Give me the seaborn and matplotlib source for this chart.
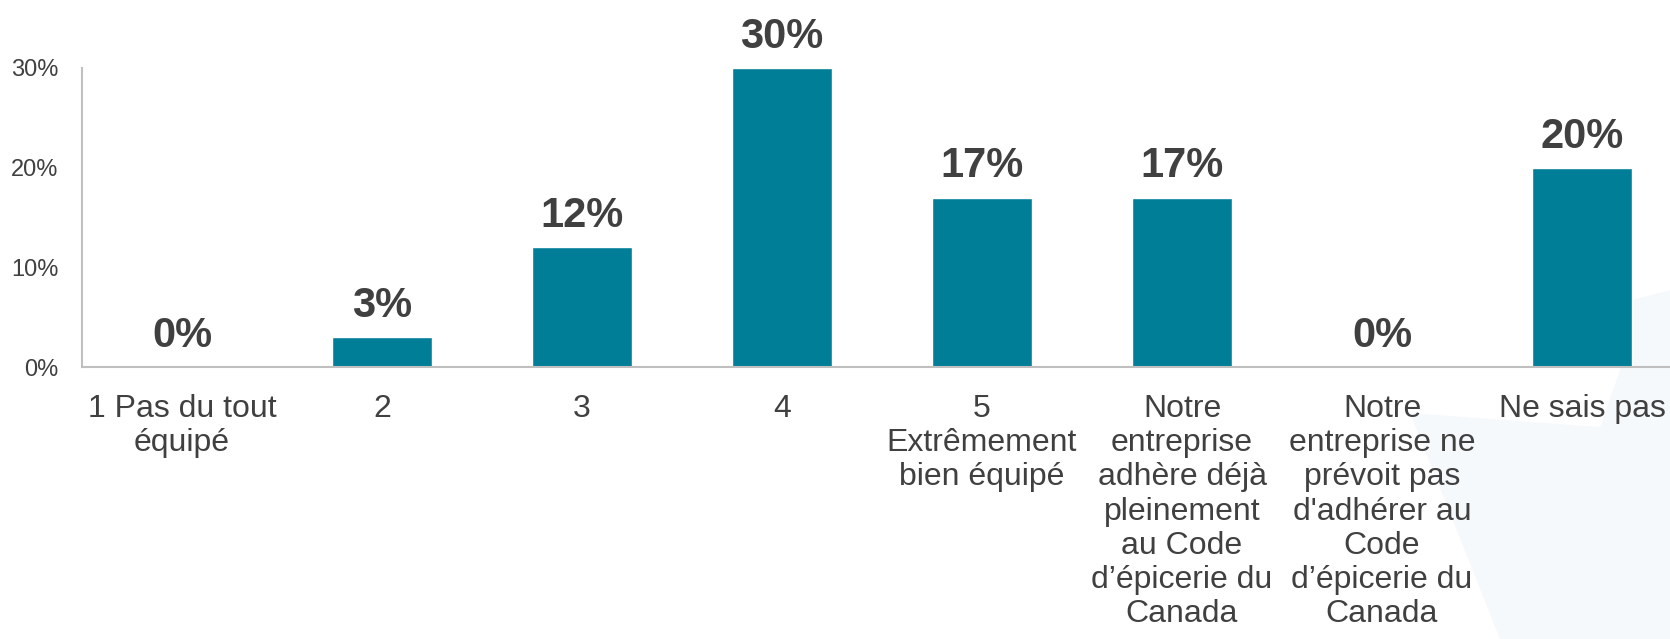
import matplotlib
matplotlib.use("Agg")
import matplotlib.pyplot as plt
from matplotlib.patches import Polygon
import seaborn as sns
import pandas as pd

categories = [
    "1 Pas du tout\néquipé",
    "2",
    "3",
    "4",
    "5\nExtrêmement\nbien équipé",
    "Notre\nentreprise\nadhère déjà\npleinement\nau Code\nd’épicerie du\nCanada",
    "Notre\nentreprise ne\nprévoit pas\nd'adhérer au\nCode\nd’épicerie du\nCanada",
    "Ne sais pas",
]
values = [0, 3, 12, 30, 17, 17, 0, 20]
y_ticks = [0, 10, 20, 30]
y_tick_labels = ["0%", "10%", "20%", "30%"]

BAR_COLOR = "#007E98"
TEXT_COLOR = "#404040"
AXIS_COLOR = "#BFBFBF"

sns.set_theme(style="white")
plt.rcParams["font.family"] = ["Liberation Sans", "DejaVu Sans"]

W, H = 1670, 639
fig = plt.figure(figsize=(W / 100, H / 100), dpi=100)

# faint background shape in the lower right corner, on its own layer behind the chart
bg_ax = fig.add_axes([0, 0, 1, 1], zorder=-1)
bg_ax.set_xlim(0, W)
bg_ax.set_ylim(H, 0)
bg_ax.axis("off")
bg = [(1632, 300), (1670, 290), (1670, 639), (1500, 639), (1410, 413),
      (1600, 427), (1620, 370)]
bg_ax.add_patch(Polygon(bg, closed=True, facecolor="#F6F9FC", edgecolor="none"))

left, right = 82, 1682
top, bottom = 68, 367
ax = fig.add_axes([left / W, 1 - bottom / H, (right - left) / W, (bottom - top) / H])
ax.set_facecolor("none")

df = pd.DataFrame({"cat": categories, "val": values})
sns.barplot(data=df, x="cat", y="val", color=BAR_COLOR, saturation=1,
            width=0.5, ax=ax, order=categories)

ax.set_xlim(-0.5, len(categories) - 0.5)
ax.set_ylim(0, 30)
ax.set_yticks(y_ticks)
ax.set_yticklabels(y_tick_labels)
ax.set_xlabel("")
ax.set_ylabel("")

for spine in ["top", "right"]:
    ax.spines[spine].set_visible(False)
for spine in ["left", "bottom"]:
    ax.spines[spine].set_color(AXIS_COLOR)
    ax.spines[spine].set_linewidth(1.5)

ax.tick_params(axis="y", labelsize=17, colors=TEXT_COLOR, length=0, pad=17)
ax.tick_params(axis="x", labelsize=23, colors=TEXT_COLOR, length=0, pad=19.5)
for lbl in ax.get_xticklabels():
    lbl.set_linespacing(1.18)
    lbl.set_ha("center")

for i, v in enumerate(values):
    ax.annotate(f"{v}%", xy=(i, v), xytext=(0, 8), textcoords="offset points",
                ha="center", va="bottom", fontsize=30, fontweight="bold",
                color=TEXT_COLOR, annotation_clip=False)

fig.savefig("out.png", dpi=100)
